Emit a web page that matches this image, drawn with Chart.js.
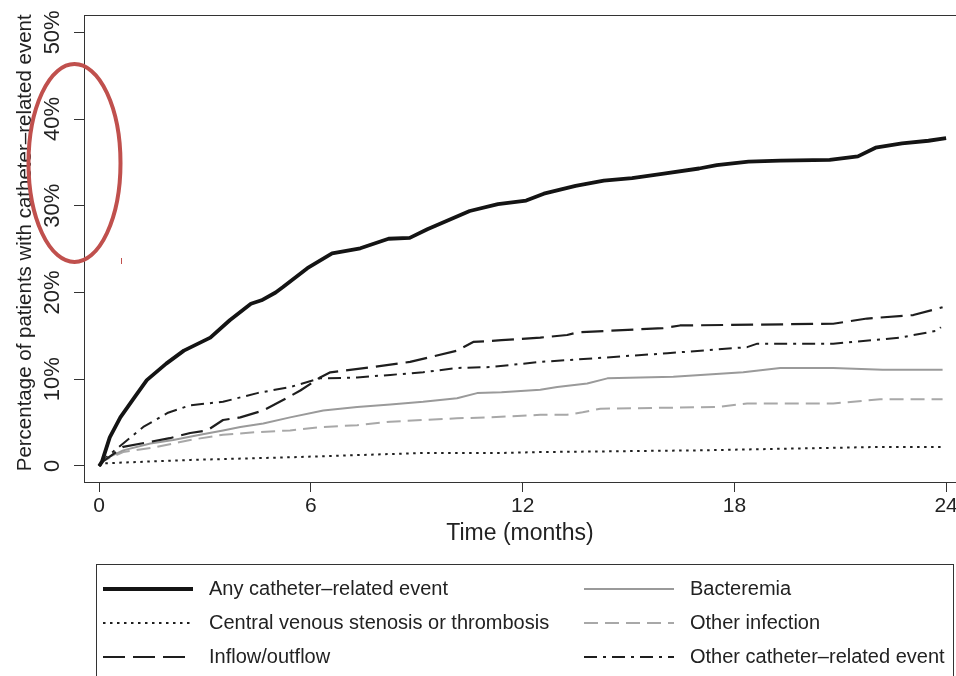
<!DOCTYPE html>
<html>
<head>
<meta charset="utf-8">
<script src="https://cdn.jsdelivr.net/npm/chart.js@4.4.1/dist/chart.umd.min.js"></script>
<style>
  html, body { margin: 0; padding: 0; background: #ffffff; }
  #wrap { width: 956px; height: 676px; }
</style>
</head>
<body>
<div id="wrap"><canvas id="c" width="956" height="676"></canvas></div>
<script>
// ---- data (months, cumulative % of patients) ----
const anyMonths = [0, 0.08, 0.3, 0.6, 1.0, 1.35, 1.9, 2.4, 3.15, 3.7, 4.3, 4.6, 5.0, 5.2, 5.9, 6.6, 7.4, 8.2, 8.8, 9.3, 10.5, 11.3, 12.1, 12.6, 13.5, 14.3, 15.1, 16.0, 17.0, 17.5, 18.4, 19.3, 20.7, 21.5, 22.0, 22.75, 23.5, 24.0];
const anyPct    = [0, 0.5, 3.3, 5.6, 7.9, 9.9, 11.8, 13.3, 14.8, 16.8, 18.7, 19.1, 20.0, 20.6, 22.8, 24.5, 25.1, 26.2, 26.3, 27.3, 29.4, 30.2, 30.6, 31.4, 32.3, 32.9, 33.2, 33.7, 34.3, 34.7, 35.1, 35.2, 35.3, 35.7, 36.7, 37.2, 37.5, 37.8];

const cvsMonths = [0, 0.1, 2.6, 5.4, 9.2, 11.4, 12.5, 17.0, 22.2, 23.85];
const cvsPct    = [0, 0.3, 0.7, 1.0, 1.5, 1.5, 1.6, 1.8, 2.2, 2.2];

const inflowMonths = [0, 0.1, 0.68, 2.0, 2.58, 3.06, 3.51, 4.0, 4.65, 5.21, 5.7, 6.26, 6.55, 7.76, 8.81, 10.14, 10.6, 11.4, 12.5, 13.26, 13.55, 15.98, 16.46, 20.8, 21.28, 21.76, 23.07, 23.9];
const inflowPct    = [0, 0.5, 2.2, 3.2, 3.8, 4.1, 5.3, 5.6, 6.4, 7.6, 8.7, 10.2, 10.8, 11.4, 12.0, 13.3, 14.3, 14.5, 14.8, 15.1, 15.4, 15.9, 16.2, 16.4, 16.7, 17.0, 17.4, 18.3];

const bactMonths = [0, 0.11, 0.68, 1.45, 2.1, 2.86, 3.51, 4.0, 4.65, 5.41, 6.35, 7.31, 8.25, 9.18, 10.14, 10.71, 11.4, 12.5, 12.98, 13.83, 14.4, 16.27, 18.25, 19.3, 20.8, 22.2, 23.9];
const bactPct    = [0, 0.7, 1.8, 2.6, 3.0, 3.6, 4.1, 4.5, 4.9, 5.6, 6.4, 6.8, 7.1, 7.4, 7.8, 8.4, 8.5, 8.8, 9.1, 9.5, 10.1, 10.3, 10.8, 11.3, 11.3, 11.1, 11.1];

const infMonths = [0, 0.11, 0.68, 1.64, 2.58, 3.51, 4.48, 5.41, 6.35, 7.31, 8.25, 9.18, 10.14, 11.08, 12.5, 13.26, 13.7, 14.2, 17.5, 18.36, 20.8, 22.13, 23.9];
const infPct    = [0, 0.6, 1.6, 2.2, 3.0, 3.6, 3.9, 4.1, 4.5, 4.7, 5.1, 5.3, 5.5, 5.6, 5.9, 5.9, 6.2, 6.6, 6.8, 7.2, 7.2, 7.7, 7.7];

const otherMonths = [0, 0.11, 0.68, 1.25, 1.93, 2.58, 3.51, 4.48, 5.41, 6.26, 7.31, 8.25, 9.18, 10.14, 11.08, 12.5, 13.26, 16.1, 18.36, 18.65, 20.8, 22.7, 23.75, 23.85];
const otherPct    = [0, 0.7, 2.6, 4.5, 6.1, 7.0, 7.4, 8.4, 9.1, 10.1, 10.2, 10.5, 10.8, 11.3, 11.4, 12.0, 12.2, 13.0, 13.7, 14.1, 14.1, 14.8, 15.6, 16.0];

const seriesLabels = [
  'Any catheter\u2013related event',
  'Central venous stenosis or thrombosis',
  'Inflow/outflow',
  'Bacteremia',
  'Other infection',
  'Other catheter\u2013related event'
];

const xTickValues = [0, 6, 12, 18, 24];
const xTickLabels = ['0', '6', '12', '18', '24'];
const yTickValues = [0, 10, 20, 30, 40, 50];
const yTickLabels = ['0', '10%', '20%', '30%', '40%', '50%'];

const xTitle = 'Time (months)';
const yTitle = '  Percentage of patients with catheter\u2013related event';

// ---- build ----
function pts(xs, ys) { return xs.map((x, i) => ({ x: x, y: ys[i] })); }

const FONT = '"Liberation Sans", Arial, Helvetica, sans-serif';
const TXT = '#222222';

const datasets = [
  { label: seriesLabels[0], data: pts(anyMonths, anyPct), borderColor: '#141414', borderWidth: 3.8, borderDash: [] },
  { label: seriesLabels[1], data: pts(cvsMonths, cvsPct), borderColor: '#1e1e1e', borderWidth: 2, borderDash: [2.5, 4.5] },
  { label: seriesLabels[2], data: pts(inflowMonths, inflowPct), borderColor: '#1e1e1e', borderWidth: 2.2, borderDash: [22, 8] },
  { label: seriesLabels[3], data: pts(bactMonths, bactPct), borderColor: '#9a9a9a', borderWidth: 2, borderDash: [] },
  { label: seriesLabels[4], data: pts(infMonths, infPct), borderColor: '#a8a8a8', borderWidth: 2, borderDash: [14, 7] },
  { label: seriesLabels[5], data: pts(otherMonths, otherPct), borderColor: '#1e1e1e', borderWidth: 2, borderDash: [13, 6, 3, 6] }
].map(d => Object.assign(d, { fill: false, pointRadius: 0, tension: 0, borderJoinStyle: 'round', borderCapStyle: 'butt' }));

const framePlugin = {
  id: 'frameTop',
  afterDraw(chart) {
    const { ctx, chartArea } = chart;
    ctx.save();
    ctx.strokeStyle = '#333';
    ctx.lineWidth = 1;
    ctx.beginPath();
    ctx.moveTo(chartArea.left, Math.round(chartArea.top) + 0.5);
    ctx.lineTo(chart.width, Math.round(chartArea.top) + 0.5);
    ctx.stroke();
    ctx.restore();
  }
};

const legendPlugin = {
  id: 'gridLegend',
  afterDraw(chart) {
    const ctx = chart.ctx;
    ctx.save();
    ctx.strokeStyle = '#333';
    ctx.lineWidth = 1;
    ctx.strokeRect(96.5, 564.5, 857, 140);
    const rowsY = [589, 623, 657];
    const colSample = [[103, 193], [584, 674]];
    const colText = [209, 690];
    ctx.font = '20px ' + FONT;
    ctx.textBaseline = 'middle';
    ctx.textAlign = 'left';
    chart.data.datasets.forEach((ds, i) => {
      const col = Math.floor(i / 3), row = i % 3;
      const y = rowsY[row];
      ctx.save();
      ctx.strokeStyle = ds.borderColor;
      ctx.lineWidth = ds.borderWidth;
      ctx.setLineDash(ds.borderDash || []);
      ctx.beginPath();
      ctx.moveTo(colSample[col][0], y);
      ctx.lineTo(colSample[col][1], y);
      ctx.stroke();
      ctx.restore();
      ctx.fillStyle = TXT;
      ctx.fillText(ds.label, colText[col], y);
    });
    ctx.restore();
  }
};

const markPlugin = {
  id: 'redEllipse',
  afterDraw(chart) {
    const ctx = chart.ctx;
    ctx.save();
    ctx.strokeStyle = '#c0504d';
    ctx.lineWidth = 4;
    ctx.beginPath();
    ctx.ellipse(74.5, 163, 46, 99, 0, 0, Math.PI * 2);
    ctx.stroke();
    ctx.lineWidth = 1;
    ctx.beginPath();
    ctx.moveTo(121.5, 258);
    ctx.lineTo(121.5, 264);
    ctx.stroke();
    ctx.restore();
  }
};

new Chart(document.getElementById('c'), {
  type: 'line',
  data: { datasets: datasets },
  plugins: [framePlugin, legendPlugin, markPlugin],
  options: {
    responsive: false,
    animation: false,
    layout: { padding: { left: 0, right: 0, top: 15, bottom: 129 } },
    plugins: { legend: { display: false }, tooltip: { enabled: false } },
    scales: {
      x: {
        type: 'linear',
        min: -0.43,
        max: 24.28,
        afterBuildTicks(scale) { scale.ticks = xTickValues.map(v => ({ value: v })); },
        afterFit(scale) { scale.height = 65; scale.paddingLeft = 0; scale.paddingRight = 0; },
        grid: { display: true, drawOnChartArea: false, drawTicks: true, tickLength: 10, color: '#333', lineWidth: 1 },
        border: { display: true, color: '#333', width: 1 },
        ticks: {
          autoSkip: false, maxRotation: 0, minRotation: 0, padding: 2, color: TXT,
          font: { family: FONT, size: 21 },
          callback: (v) => xTickLabels[xTickValues.indexOf(v)]
        },
        title: { display: true, text: xTitle, color: TXT, font: { family: FONT, size: 23 }, padding: { top: 0, bottom: 0 } }
      },
      y: {
        type: 'linear',
        min: -1.85,
        max: 52,
        afterBuildTicks(scale) { scale.ticks = yTickValues.map(v => ({ value: v })); },
        afterFit(scale) { scale.width = 84; scale.paddingTop = 0; scale.paddingBottom = 0; },
        grid: { display: true, drawOnChartArea: false, drawTicks: true, tickLength: 10, color: '#333', lineWidth: 1 },
        border: { display: true, color: '#333', width: 1 },
        ticks: {
          autoSkip: false, minRotation: 90, maxRotation: 90, crossAlign: 'center', padding: -1, color: TXT,
          font: { family: FONT, size: 22 },
          callback: (v) => yTickLabels[yTickValues.indexOf(v)]
        },
        title: { display: true, text: yTitle, color: TXT, font: { family: FONT, size: 20.5 }, padding: { top: 13, bottom: 0 } }
      }
    }
  }
});
</script>
</body>
</html>
